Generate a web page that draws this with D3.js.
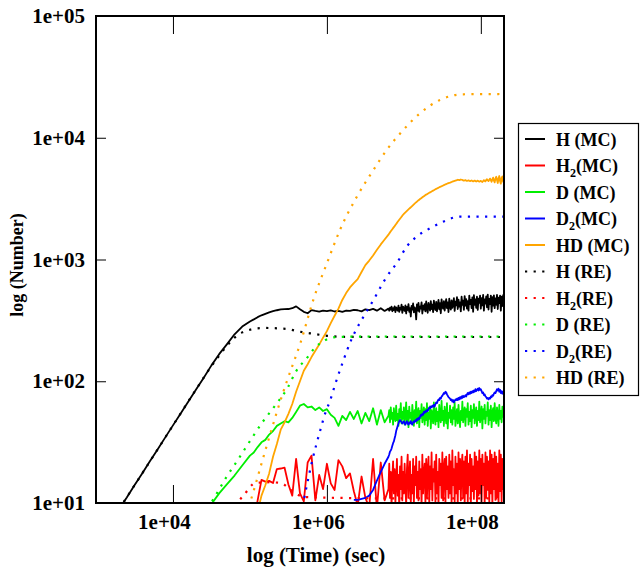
<!DOCTYPE html>
<html><head><meta charset="utf-8">
<script src="https://cdn.jsdelivr.net/npm/d3@7"></script>
<style>
body{margin:0;background:#fff}
text{font-family:"Liberation Serif","Times New Roman",serif;font-weight:bold;fill:#000}
</style>
</head><body>
<svg id="chart" width="640" height="568"></svg>
<script>
// ---- Monte Carlo output times (log10 sec) ----
const mcLogTimeEarly = [3.3,3.4,3.5,3.6,3.7,3.8,3.9,4.0,4.1,4.2,4.3,4.4,4.5,4.6,4.7,4.8,4.9,
  5.00,5.05,5.10,5.15,5.20,5.25,5.30,5.35,5.40,5.45,5.50,5.55,5.60,5.65,5.70,5.75,5.80,5.85,5.90,5.95,
  6.00,6.05,6.10,6.15,6.20,6.25,6.30,6.35,6.40,6.45,6.50,6.55,6.60,6.65,6.70,6.75];
const mcLogTimeLate = [
  6.80,6.81,6.82,6.83,6.84,6.85,6.86,6.87,6.88,6.89,
  6.90,6.91,6.92,6.93,6.94,6.95,6.96,6.97,6.98,6.99,
  7.00,7.01,7.02,7.03,7.04,7.05,7.06,7.07,7.08,7.09,
  7.10,7.11,7.12,7.13,7.14,7.15,7.16,7.17,7.18,7.19,
  7.20,7.21,7.22,7.23,7.24,7.25,7.26,7.27,7.28,7.29,
  7.30,7.31,7.32,7.33,7.34,7.35,7.36,7.37,7.38,7.39,
  7.40,7.41,7.42,7.43,7.44,7.45,7.46,7.47,7.48,7.49,
  7.50,7.51,7.52,7.53,7.54,7.55,7.56,7.57,7.58,7.59,
  7.60,7.61,7.62,7.63,7.64,7.65,7.66,7.67,7.68,7.69,
  7.70,7.71,7.72,7.73,7.74,7.75,7.76,7.77,7.78,7.79,
  7.80,7.81,7.82,7.83,7.84,7.85,7.86,7.87,7.88,7.89,
  7.90,7.91,7.92,7.93,7.94,7.95,7.96,7.97,7.98,7.99,
  8.00,8.01,8.02,8.03,8.04,8.05,8.06,8.07,8.08,8.09,
  8.10,8.11,8.12,8.13,8.14,8.15,8.16,8.17,8.18,8.19,
  8.20,8.21,8.22,8.23,8.24,8.25,8.26,8.27,8.28,8.29,
  8.30];

// ---- MC series values (null = zero count) ----
const hMCEarly = [8.9,11.1,14.0,17.5,22,27.5,34.6,43.4,54.4,68.3,85.7,107,135,167,201,243,281,
  310,322,336,348,358,368,376,383,389,391, 392,398,412,390,372,362,384,378,373,380,
  376,382,374,379,372,381,378,386,383,375, 390,384,393,380,398,378];
const hMCLate = [
  395,380,402,388,410,376,398,385,412,370,
  405,392,380,418,372,400,388,425,365,410,
  395,378,420,360,408,385,430,372,398,340,
  415,388,435,368,405,392,322,428,380,440,
  372,410,395,445,360,418,388,430,375,452,
  398,365,440,410,380,455,392,425,370,460,
  402,385,448,375,420,465,390,438,362,470,
  410,395,455,380,430,472,398,445,370,478,
  415,388,462,400,435,482,378,450,420,490,
  392,468,410,445,375,495,425,460,385,500,
  418,472,395,455,380,505,430,465,398,488,
  372,510,425,470,400,495,385,478,440,505,
  395,482,420,512,380,470,435,498,405,515,
  388,475,430,505,372,490,418,508,398,480,
  425,512,392,485,438,505,380,495,415,510,
  440];
const h2MCEarly = [null,null,null,null,null,null,null,null,null,null,null,null,null,null,null,null,null,
  null,7,10.5,15.5,15,15.2,14.6,19,19.2,19.5, 14.2,11.5,23,12,10.3,21.5,24.5,10.5,17,13,
  21,14.5,12.8,22.5,20,16,17.5,12.5,9.5,16.5, 11,9.2,23,9.0,21.5,10.5];
const h2MCLate = [
  13,21,11,18,9.5,16,22,12,19,10,
  15,23,11.5,17,9,20,13,24,10.5,18,
  12,21,14,9.5,19,25,11,16,22,10,
  17,12,23,9.8,20,14,24,11,18,10.5,
  22,13,19,9.5,25,12,17,21,10,23,
  11,18,24,9.8,20,13,26,10.5,19,15,
  22,10,25,12,18,9.5,23,14,21,11,
  26,10.5,19,23,9.6,24,13,20,11,25,
  12,22,9.8,27,14,19,10.2,24,12,21,
  9.5,26,13,23,10.5,20,25,11,22,9.7,
  24,12,27,10,21,14,25,9.6,23,12.5,
  20,10.8,26,13,24,9.8,22,11.5,27,12,
  23,10.2,25,14,21,9.7,26,11,24,12.8,
  22,10,27,12,25,9.5,23,13,26,10.6,
  24,11.2,21,9.8,27,12.5,25,10.3,23,13,
  22];
const dMCEarly = [null,null,null,null,null,null,null,null,null,null,null,null,9.8,12.0,14.2,16.8,20.3,
  24.5,26,28.8,31.5,33,36.5,39,43,45,47, 46,50,56,63,65,61,62,58,61,57,
  59,53,50,43,52,48,56,49,57,45, 55,47,60,44,58,46];
const dMCLate = [
  52,58,46,61,49,55,44,60,51,47,
  63,48,54,43,59,50,66,45,56,49,
  61,44,53,67,47,57,42,62,50,55,
  46,64,51,43,58,48,68,45,54,60,
  42,57,50,65,46,53,61,44,59,48,
  66,43,55,49,62,41,58,52,45,67,
  50,44,60,47,56,42,64,51,46,69,
  48,57,43,62,52,45,66,41,55,50,
  63,46,58,44,61,49,67,43,53,59,
  45,64,50,42,57,48,68,46,55,61,
  43,59,51,66,44,56,47,63,42,58,
  50,65,45,54,61,43,57,48,68,46,
  53,62,41,59,49,64,45,56,52,67,
  44,58,48,63,42,55,60,47,66,50,
  45,61,53,43,64,49,57,46,62,51,
  55];
const d2MCEarly = [null,null,null,null,null,null,null,null,null,null,null,null,null,null,null,null,null,
  null,null,null,null,null,null,null,null,null,null, null,null,null,null,null,null,null,null,null,null,
  null,null,null,null,null,null,null,10.6,10.6,10.8, 11.0,11.5,12.8,15.3,18,21];
const d2MCLate = [
  24,25,26.5,27,28,29.5,31,32,34,36,
  39,41,43,45,47,48,47,46,45,46,
  47,45,44,46,47,45,44,46,45,47,
  45,44,46,47,46,48,47,49,48,50,
  49,51,53,52,54,53,56,55,57,56,
  58,57,59,61,60,62,61,63,62,64,
  62,65,67,66,69,71,70,73,72,75,
  76,78,80,79,82,81,78,76,74,73,
  72,70,71,68,70,67,69,71,70,72,
  70,73,71,74,72,75,73,76,74,75,
  77,75,78,80,78,81,79,82,80,83,
  81,84,82,86,83,85,87,84,88,85,
  86,83,80,81,77,78,75,74,72,73,
  71,73,72,75,74,77,76,79,81,80,
  83,86,84,87,82,85,80,83,79,82,
  80];
const hdMCEarly = [null,null,null,null,null,null,null,null,null,null,null,null,null,null,null,null,null,
  null,6,8.5,11.5,14,17.5,24,30.5,40,46, 54,65,82,100,122,138,158,178,200,228,
  258,300,345,395,465,530,590,640,690,790, 900,980,1080,1200,1330,1460];
const hdMCLate = [
  1600,1635,1670,1705,1740,1775,1810,1845,1880,1920,
  1960,2000,2040,2080,2120,2160,2200,2245,2290,2330,
  2370,2405,2440,2475,2510,2545,2580,2615,2650,2685,
  2720,2760,2800,2840,2880,2915,2950,2990,3030,3065,
  3100,3135,3170,3205,3240,3275,3310,3345,3380,3410,
  3440,3470,3500,3530,3560,3590,3620,3650,3680,3710,
  3740,3770,3800,3830,3860,3890,3920,3945,3970,3995,
  4020,4050,4080,4110,4140,4165,4190,4215,4240,4260,
  4280,4305,4330,4355,4380,4400,4420,4440,4460,4490,
  4520,4500,4480,4510,4540,4520,4500,4470,4440,4460,
  4490,4450,4420,4440,4470,4430,4400,4430,4460,4410,
  4380,4420,4450,4400,4370,4410,4440,4390,4360,4400,
  4420,4370,4330,4410,4480,4420,4380,4500,4560,4460,
  4400,4520,4620,4480,4350,4560,4700,4450,4300,4620,
  4780,4500,4250,4650,4850,4400,4200,4700,4800,4350,
  4300];

// ---- Rate-equation series: [log10 time, number] ----
const hRE = [[3.3,8.9],[3.6,17.5],[4.0,43.4],[4.3,85.7],[4.5,133],[4.6,162],[4.7,195],[4.8,228],[4.9,252],
  [5.0,265],[5.1,272],[5.2,274],[5.3,273],[5.4,271],[5.5,268],[5.6,259],[5.7,252],[5.8,247],[5.9,241],
  [6.0,236],[6.2,232],[6.5,231],[7.0,231],[8.3,231]];
const h2RE = [[4.80,9.5],[4.92,11.6],[5.07,14.6],[5.25,14.8],[5.40,14.6],[5.53,12.8],[5.70,11.2],[5.90,11.1],
  [6.2,11],[7.0,10.9],[8.3,10.9]];
const dRE = [[4.45,9],[4.556,11.6],[4.686,16],[4.841,22.5],[5.009,32.9],[5.164,46.2],[5.332,63.8],[5.488,88],
  [5.59,118],[5.75,158],[5.85,190],[5.98,218],[6.13,231],[6.5,233],[8.3,233]];
const d2RE = [[5.66,8],[5.695,10.2],[5.811,22.5],[5.915,39.8],[5.979,54.8],[6.044,70],[6.109,95],[6.173,125],
  [6.325,225],[6.475,339],[6.604,464],[6.726,638],[6.777,723],[6.907,931],[7.036,1274],[7.166,1540],
  [7.338,1802],[7.51,2044],[7.726,2248],[8.3,2250]];
const hdRE = [[4.95,8],[5.0,10],[5.07,14],[5.14,20],[5.2,27],[5.27,38],[5.35,56],[5.48,100],[5.66,210],
  [5.83,480],[6.0,930],[6.17,1750],[6.389,3280],[6.604,5430],[6.777,7930],[6.992,11580],[7.208,15850],
  [7.467,20400],[7.768,22750],[8.3,22870]];

// ---- labels / ticks ----
const xTicks = [1e4, 1e6, 1e8];
const yTicks = [1e1, 1e2, 1e3, 1e4, 1e5];
const legendNames = [["H","","(MC)"],["H","2","(MC)"],["D","","(MC)"],["D","2","(MC)"],["HD","","(MC)"],
  ["H","","(RE)"],["H","2","(RE)"],["D","","(RE)"],["D","2","(RE)"],["HD","","(RE)"]];
const seriesColors = ["#000000","#ff0000","#00ee00","#0000ff","#ffa500"];

// ---- drawing ----
const svg = d3.select("#chart");
const L = 96, R = 504, T = 16, B = 503;
const x = d3.scaleLog().domain([1e3, 2e8]).range([L, R]);
const y = d3.scaleLog().domain([10, 1e5]).range([B, T]);

svg.append("defs").append("clipPath").attr("id","clip")
  .append("rect").attr("x",L).attr("y",T).attr("width",R-L).attr("height",B-T);

const mcTime = mcLogTimeEarly.concat(mcLogTimeLate).map(l => Math.pow(10, l));
const mcSeries = [hMCEarly.concat(hMCLate), h2MCEarly.concat(h2MCLate), dMCEarly.concat(dMCLate),
  d2MCEarly.concat(d2MCLate), hdMCEarly.concat(hdMCLate)];
const reSeries = [hRE, h2RE, dRE, d2RE, hdRE];

const mcLine = d3.line().defined(d => d.v != null && d.v > 0).x(d => x(d.t)).y(d => y(d.v));
const reLine = d3.line().curve(d3.curveMonotoneX).x(d => x(Math.pow(10, d[0]))).y(d => y(d[1]));

const plot = svg.append("g").attr("clip-path","url(#clip)");
mcSeries.forEach((vals, i) => {
  const data = mcTime.map((t, k) => ({t, v: vals[k]}));
  plot.append("path").datum(data).attr("d", mcLine)
    .attr("fill","none").attr("stroke", seriesColors[i]).attr("stroke-width", 1.8)
    .attr("stroke-linejoin","round");
});
reSeries.forEach((pts, i) => {
  plot.append("path").datum(pts).attr("d", reLine)
    .attr("fill","none").attr("stroke", seriesColors[i]).attr("stroke-width", 2.2)
    .attr("stroke-dasharray","2.2 6.4");
});

// axes
const fmt = d => "1e+" + String(Math.round(Math.log10(d))).padStart(2, "0");
const gx = svg.append("g").attr("transform",`translate(0,${B})`)
  .call(d3.axisBottom(x).tickValues(xTicks).tickFormat(fmt).tickSizeInner(-18).tickSizeOuter(0).tickPadding(26));
gx.select(".domain").remove();
gx.selectAll("text").attr("dy","0").attr("dx","-9").style("font-size","21px")
  .style("font-family","'Liberation Serif',serif");
const gxt = svg.append("g").attr("transform",`translate(0,${T})`)
  .call(d3.axisTop(x).tickValues(xTicks).tickFormat("").tickSizeInner(-18).tickSizeOuter(0));
gxt.select(".domain").remove();
const gy = svg.append("g").attr("transform",`translate(${L},0)`)
  .call(d3.axisLeft(y).tickValues(yTicks).tickFormat(fmt).tickSizeInner(-10).tickSizeOuter(0).tickPadding(11));
gy.select(".domain").remove();
gy.selectAll("text").style("font-size","21px").style("font-family","'Liberation Serif',serif");
const gyr = svg.append("g").attr("transform",`translate(${R},0)`)
  .call(d3.axisRight(y).tickValues(yTicks).tickFormat("").tickSizeInner(-10).tickSizeOuter(0));
gyr.select(".domain").remove();
svg.selectAll(".tick line").attr("stroke","#000").attr("stroke-width",1);

svg.append("rect").attr("x",L).attr("y",T).attr("width",R-L).attr("height",B-T)
  .attr("fill","none").attr("stroke","#000").attr("stroke-width",2);

// axis titles
svg.append("text").attr("x",316).attr("y",562).attr("text-anchor","middle")
  .style("font-size","21px").text("log (Time) (sec)");
svg.append("text").attr("transform","translate(23,265) rotate(-90)").attr("text-anchor","middle")
  .style("font-size","18px").text("log (Number)");

// legend
const lg = svg.append("g");
lg.append("rect").attr("x",518.5).attr("y",123.5).attr("width",120).attr("height",272)
  .attr("fill","#fff").attr("stroke","#000").attr("stroke-width",1.2);
legendNames.forEach((nm, i) => {
  const yy = 139 + i * 26.5;
  const ci = i % 5, dotted = i >= 5;
  lg.append("line").attr("x1",525).attr("x2",545).attr("y1",yy).attr("y2",yy)
    .attr("stroke", seriesColors[ci]).attr("stroke-width", dotted ? 2.2 : 2)
    .attr("stroke-dasharray", dotted ? "2.2 6.4" : null);
  const t = lg.append("text").attr("x",556).attr("y",yy + 6.5).style("font-size","18px");
  t.append("tspan").text(nm[0]);
  if (nm[1]) {
    t.append("tspan").attr("dy",5).style("font-size","12px").text(nm[1]);
    t.append("tspan").attr("dy",-5).text(nm[2]);
  } else {
    t.append("tspan").text(" " + nm[2]);
  }
});
</script>
</body></html>
